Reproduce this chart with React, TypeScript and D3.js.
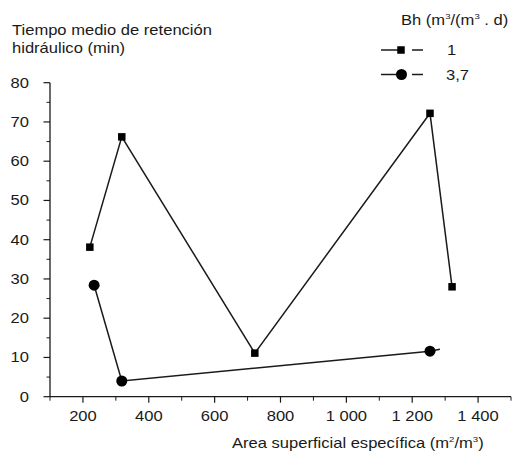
import React from "react";
import * as d3 from "d3";

const squareX = [221, 318, 722, 1254, 1321];
const squareY = [38.1, 66.2, 11.1, 72.2, 28.0];
const circleX = [234, 318, 1254];
const circleY = [28.4, 4.0, 11.6];
// the circle line runs a little past its last marker
const circleTail = [1284, 12.1];

const yTicks = [0, 10, 20, 30, 40, 50, 60, 70, 80];
const yMinor = [5, 15, 25, 35, 45, 55, 65, 75];
const xTicks = [200, 400, 600, 800, 1000, 1200, 1400];
const xMinor = [100, 300, 500, 700, 900, 1100, 1300, 1500];
const legendLabels = ["1", "3,7"];

const W = 513;
const H = 453;
const SX = 1.2; // the source type is stretched sideways
const FONT = "'Liberation Sans', Arial, Helvetica, sans-serif";
const INK = "#1a1a1a";

function T({ x, y, anchor = "start", size = 13.8, children }: any) {
  return (
    <text
      transform={`translate(${x},${y}) scale(${SX},1)`}
      textAnchor={anchor}
      fontSize={size}
      fontFamily={FONT}
      fill={INK}
    >
      {children}
    </text>
  );
}

function fmtX(n: number) {
  if (n >= 1000) return `${Math.floor(n / 1000)}\u00a0${d3.format("03d")(n % 1000)}`;
  return String(n);
}

export default function App() {
  const x = d3.scaleLinear().domain([100, 1500]).range([50, 511]);
  const y = d3.scaleLinear().domain([0, 80]).range([396.7, 82.7]);

  const sq = squareX.map((v, i) => [v, squareY[i]]);
  const ci = circleX.map((v, i) => [v, circleY[i]]);
  const line = d3
    .line<number[]>()
    .x((d) => x(d[0]))
    .y((d) => y(d[1]));

  const ms = 7.5;
  const cr = 5.5;

  return (
    <svg
      width={W}
      height={H}
      style={{ position: "absolute", left: 0, top: 0, background: "#fff" }}
    >
      {/* titles */}
      <T x={12} y={35}>Tiempo medio de retención</T>
      <T x={12} y={53}>hidráulico (min)</T>

      {/* legend */}
      <T x={401} y={25}>
        Bh (m<tspan dy={-6} fontSize={8}>3</tspan>
        <tspan dy={6}>/(m</tspan>
        <tspan dy={-6} fontSize={8}>3</tspan>
        <tspan dy={6}> . d)</tspan>
      </T>
      {legendLabels.map((lab, i) => {
        const ly = 50 + i * 24.5;
        return (
          <g key={lab}>
            <line x1={381} x2={398} y1={ly} y2={ly} stroke={INK} strokeWidth={1.5} />
            <line x1={412} x2={423} y1={ly} y2={ly} stroke={INK} strokeWidth={1.5} />
            {i === 0 ? (
              <rect x={401 - ms / 2} y={ly - ms / 2} width={ms} height={ms} fill="#000" />
            ) : (
              <circle cx={401.5} cy={ly} r={cr} fill="#000" />
            )}
            <T x={i === 0 ? 447 : 446} y={ly + 5}>{lab}</T>
          </g>
        );
      })}

      {/* axes */}
      <line x1={50} x2={50} y1={y(80)} y2={y(0)} stroke={INK} strokeWidth={1.3} />
      <line x1={50} x2={511} y1={y(0)} y2={y(0)} stroke={INK} strokeWidth={1.3} />
      {yTicks.map((t) => (
        <g key={"yt" + t}>
          <line x1={43.5} x2={50} y1={y(t)} y2={y(t)} stroke={INK} strokeWidth={1.2} />
          <T x={29} y={y(t) + 5} anchor="end">{t}</T>
        </g>
      ))}
      {yMinor.map((t) => (
        <line key={"ym" + t} x1={46.5} x2={50} y1={y(t)} y2={y(t)} stroke={INK} strokeWidth={1} />
      ))}
      {xTicks.map((t) => (
        <g key={"xt" + t}>
          <line x1={x(t)} x2={x(t)} y1={y(0)} y2={y(0) + 6} stroke={INK} strokeWidth={1.2} />
          <T x={x(t)} y={421} anchor="middle">{fmtX(t)}</T>
        </g>
      ))}
      {xMinor.map((t) => (
        <line key={"xm" + t} x1={x(t)} x2={x(t)} y1={y(0)} y2={y(0) + 4} stroke={INK} strokeWidth={1} />
      ))}
      <T x={232} y={448}>
        Area superficial específica (m<tspan dy={-6} fontSize={8}>2</tspan>
        <tspan dy={6}>/m</tspan>
        <tspan dy={-6} fontSize={8}>3</tspan>
        <tspan dy={6}>)</tspan>
      </T>

      {/* series */}
      <path d={line(sq) || ""} fill="none" stroke={INK} strokeWidth={1.5} />
      <path d={line([...ci, circleTail]) || ""} fill="none" stroke={INK} strokeWidth={1.5} />
      {sq.map((d, i) => (
        <rect key={"s" + i} x={x(d[0]) - ms / 2} y={y(d[1]) - ms / 2} width={ms} height={ms} fill="#000" />
      ))}
      {ci.map((d, i) => (
        <circle key={"c" + i} cx={x(d[0])} cy={y(d[1])} r={cr} fill="#000" />
      ))}
    </svg>
  );
}
